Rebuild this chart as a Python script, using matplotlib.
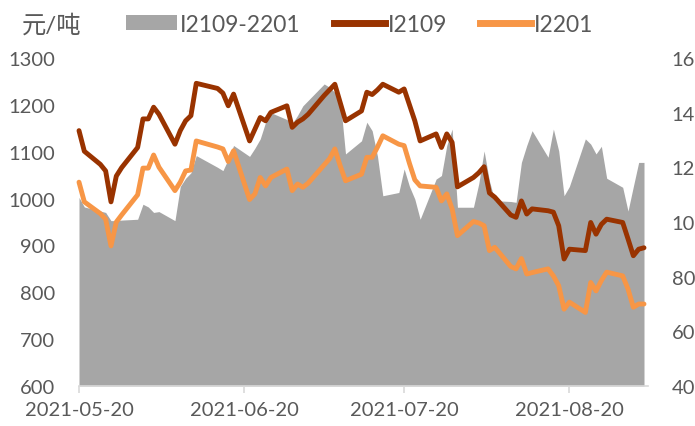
import matplotlib
matplotlib.use("Agg")
import matplotlib.pyplot as plt
import matplotlib.dates as mdates
import pandas as pd
from matplotlib.patches import Patch
from matplotlib.lines import Line2D

# trading days
dates = [
    "2021-05-20", "2021-05-21", "2021-05-24", "2021-05-25", "2021-05-26", "2021-05-27", "2021-05-28", "2021-05-31",
    "2021-06-01", "2021-06-02", "2021-06-03", "2021-06-04", "2021-06-07", "2021-06-08", "2021-06-09", "2021-06-10",
    "2021-06-11", "2021-06-15", "2021-06-16", "2021-06-17", "2021-06-18", "2021-06-21", "2021-06-22", "2021-06-23",
    "2021-06-24", "2021-06-25", "2021-06-28", "2021-06-29", "2021-06-30",
    "2021-07-01", "2021-07-02", "2021-07-05", "2021-07-06", "2021-07-07", "2021-07-08", "2021-07-09", "2021-07-12",
    "2021-07-13", "2021-07-14", "2021-07-15", "2021-07-16", "2021-07-19", "2021-07-20", "2021-07-21", "2021-07-22",
    "2021-07-23", "2021-07-26", "2021-07-27", "2021-07-28", "2021-07-29", "2021-07-30",
    "2021-08-02", "2021-08-03", "2021-08-04", "2021-08-05", "2021-08-06", "2021-08-09", "2021-08-10", "2021-08-11",
    "2021-08-12", "2021-08-13", "2021-08-16", "2021-08-17", "2021-08-18", "2021-08-19", "2021-08-20", "2021-08-23",
    "2021-08-24", "2021-08-25", "2021-08-26", "2021-08-27", "2021-08-30", "2021-08-31",
    "2021-09-01", "2021-09-02", "2021-09-03",
]

i2109 = [
    1145, 1101, 1073, 1059, 993, 1048, 1066, 1109,
    1170, 1170, 1195, 1180, 1116, 1145, 1166, 1177, 1246, 1235, 1225, 1198, 1223, 1123, 1148, 1173, 1166, 1184,
    1198, 1152, 1163,
    1170, 1180, 1220, 1232, 1244, 1205, 1166, 1187, 1227, 1222, 1232, 1244, 1227, 1234, 1200, 1166, 1123, 1138,
    1109, 1138, 1120, 1025,
    1045, 1055, 1068, 1012, 1003, 965, 960, 995, 967, 978, 974, 971, 942, 871, 892, 889, 949, 924, 945, 956,
    949, 914,
    878, 892, 895,
]

i2201 = [
    1035, 993, 968, 956, 899, 950, 965, 1008,
    1065, 1065, 1093, 1067, 1017, 1035, 1059, 1061, 1123, 1110, 1106, 1079, 1102, 998, 1010, 1045, 1027, 1045,
    1063, 1017, 1031,
    1024, 1033, 1072, 1085, 1106, 1070, 1038, 1052, 1088, 1088, 1110, 1134, 1116, 1113, 1075, 1040, 1027, 1024,
    995, 1010, 978, 921,
    951, 948, 942, 889, 896, 855, 850, 872, 839, 842, 850, 835, 814, 764, 779, 757, 821, 803, 825, 843,
    835, 807,
    768, 775, 775,
]

spread = [
    109, 105.5, 104, 103.5, 100.5, 100.5, 100.7, 101,
    106.5, 105.5, 103.5, 103.8, 100.5, 113, 116, 118, 124.3, 120, 118.8, 123, 128, 124, 127, 130.4, 136.5, 140,
    137.5, 136, 139,
    142.5, 144.5, 150.5, 149.3, 147.4, 145, 124.9, 129.7, 136.5, 133.4, 124, 109.6, 110.8, 119.4, 113, 108.4,
    101, 115.7, 117, 128, 134, 105.4,
    105.4, 114, 126, 115, 107.8, 107.5, 107.2, 121.8, 128, 133.4, 123.7, 134, 126, 109.6, 113, 130.4, 128.5,
    124.9, 127.7, 116, 112.7, 104,
    113, 121.8, 121.8,
]

left_ticks = [600, 700, 800, 900, 1000, 1100, 1200, 1300]
right_ticks = [40, 60, 80, 100, 120, 140, 160]
x_ticks = ["2021-05-20", "2021-06-20", "2021-07-20", "2021-08-20"]

x = pd.to_datetime(dates)
text_col = "#595959"
plt.rcParams["font.family"] = ["Lato", "Noto Sans CJK SC", "DejaVu Sans"]

fig = plt.figure(figsize=(6.95, 4.27), dpi=100)
ax = fig.add_axes([79 / 695, 40 / 427, 569 / 695, 328 / 427])
ax2 = ax.twinx()

# spread area on right axis, drawn behind the lines
ax2.fill_between(x, spread, 40, color="#A6A6A6", lw=0)
ax2.set_ylim(40, 160)
ax2.set_yticks(right_ticks)

ax.plot(x, i2109, color="#993300", lw=3.5, solid_joinstyle="round", solid_capstyle="round", clip_on=False)
ax.plot(x, i2201, color="#F79646", lw=3.5, solid_joinstyle="round", solid_capstyle="round", clip_on=False)
ax.set_ylim(600, 1300)
ax.set_yticks(left_ticks)
ax.set_zorder(ax2.get_zorder() + 1)
ax.patch.set_visible(False)

ax.set_xlim(pd.Timestamp("2021-05-20"), pd.Timestamp("2021-09-03 18:00"))
ax.set_xticks(pd.to_datetime(x_ticks))
ax.xaxis.set_major_formatter(mdates.DateFormatter("%Y-%m-%d"))

for a in (ax, ax2):
    for s in a.spines.values():
        s.set_visible(False)
ax.spines["bottom"].set_visible(True)
ax.spines["bottom"].set_color("#D9D9D9")
ax.spines["bottom"].set_linewidth(1.2)

ax.tick_params(axis="x", length=5, width=1.2, color="#D9D9D9", pad=6, labelsize=14.5, labelcolor=text_col)
ax.tick_params(axis="y", length=0, pad=17, labelsize=14.5, labelcolor=text_col)
ax2.tick_params(axis="y", length=0, pad=17, labelsize=14.5, labelcolor=text_col)

# legend
fig.text(22 / 695, 1 - 25 / 427, "元/吨", fontsize=17.5, color=text_col, va="center", ha="left")
handles = [
    Patch(facecolor="#A6A6A6", edgecolor="none"),
    Line2D([], [], color="#993300", lw=5),
    Line2D([], [], color="#F79646", lw=5),
]
leg = fig.legend(handles, ["I2109-2201", "I2109", "I2201"], loc="center left",
                 bbox_to_anchor=(126 / 695, 1 - 25 / 427), bbox_transform=fig.transFigure,
                 ncol=3, frameon=False, fontsize=16.5, handlelength=2.23, handleheight=0.61,
                 handletextpad=0.12, columnspacing=1.45, borderpad=0, borderaxespad=0)
for t in leg.get_texts():
    t.set_color(text_col)

fig.savefig("out.png", dpi=100)
